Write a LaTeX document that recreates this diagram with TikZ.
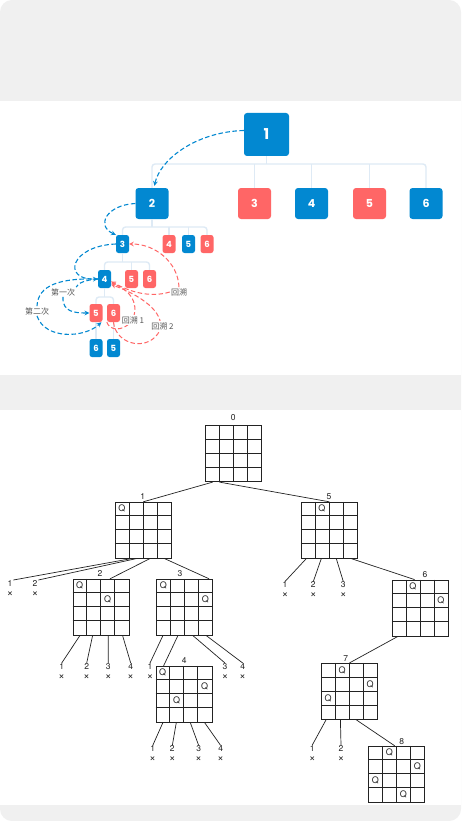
\documentclass[tikz,border=0pt]{standalone}
\usepackage{fontspec}
\usetikzlibrary{calc}
\newfontfamily\popfont{Poppins}
\newfontfamily\cjkfont{Noto Sans CJK SC}
\newfontfamily\helvfont{TeX Gyre Heros}
\definecolor{nodeblue}{RGB}{2,136,209}
\definecolor{nodered}{RGB}{255,102,102}
\definecolor{treeline}{RGB}{222,234,245}
\definecolor{panelgray}{RGB}{240,240,240}
\definecolor{labelgray}{RGB}{85,85,85}
\definecolor{inkgray}{RGB}{35,35,35}

\tikzset{
  bigbox/.style={fill=nodeblue, rounded corners=3pt, minimum width=45pt, minimum height=43pt, inner sep=0pt, text=white, font=\popfont\bfseries\fontsize{15}{15}\selectfont},
  midbox/.style={rounded corners=3pt, minimum width=33pt, minimum height=31pt, inner sep=0pt, text=white, font=\popfont\bfseries\fontsize{11}{11}\selectfont},
  smallbox/.style={rounded corners=2.5pt, minimum width=13pt, minimum height=18pt, inner sep=0pt, text=white, font=\popfont\bfseries\fontsize{8.5}{8.5}\selectfont},
  bx/.style={fill=nodeblue},
  rx/.style={fill=nodered},
  treeedge/.style={draw=treeline, line width=1.4pt, rounded corners=3pt},
  bluedash/.style={draw=nodeblue, line width=1.1pt, dash pattern=on 4.5pt off 2.5pt},
  reddash/.style={draw=nodered, line width=1pt, dash pattern=on 4.5pt off 2.5pt},
  cjklabel/.style={fill=white, inner sep=1pt, text=labelgray, font=\cjkfont\fontsize{8}{8}\selectfont},
  board/.style={draw=inkgray, line width=0.8pt, minimum size=56pt, inner sep=0pt},
  gridline/.style={draw=inkgray, line width=0.7pt},
  queen/.style={inner sep=0pt, text=inkgray, font=\helvfont\fontsize{9}{9}\selectfont},
  boardnum/.style={inner sep=0pt, text=inkgray, font=\helvfont\fontsize{8.5}{8.5}\selectfont},
  leaf/.style={inner sep=0pt, anchor=north, align=center, text=inkgray, font=\helvfont\fontsize{8.5}{10}\selectfont},
  branch/.style={draw=inkgray, line width=0.7pt},
}

% inner lines of a 4x4 board
\newcommand\drawgrid[1]{%
  \foreach \g in {14,28,42} {%
    \draw[gridline] ($(#1.north west)+(\g,0)$) -- ($(#1.south west)+(\g,0)$);
    \draw[gridline] ($(#1.north west)+(0,\g)$) -- ($(#1.north east)+(0,\g)$);
  }}
% queen: name, board, column, row
\newcommand\queen[4]{\node[queen] (#1) at ($(#2.north west)+({7+14*#3},{7+14*#4})$) {Q};}
% cross under a dead end
\newcommand\cross{{\fontsize{11}{10}\selectfont ×}}

\begin{document}
\begin{tikzpicture}[x=1pt,y=1pt,yscale=-1]
\useasboundingbox (0,0) rectangle (461,821);

%Panels
\fill[white] (0,0) rectangle (461,821);
\fill[panelgray, rounded corners=12pt] (0,0) rectangle (461,821);
\fill[white] (0,101) rectangle (461,375);
\fill[white] (0,410) rectangle (461,805);

%Top tree: level 1 and 2
\node[bigbox] (n1) at (266.5,134.5) {1};
\node[midbox,bx] (n2) at (152,203.5) {2};
\node[midbox,rx] (n3) at (254.5,203.5) {3};
\node[midbox,bx] (n4) at (311.5,203.5) {4};
\node[midbox,rx] (n5) at (369.5,203.5) {5};
\node[midbox,bx] (n6) at (426,203.5) {6};
%level 3
\node[smallbox,bx] (m3) at (122.5,244) {3};
\node[smallbox,rx] (m4) at (169,244) {4};
\node[smallbox,bx] (m5) at (188.5,244) {5};
\node[smallbox,rx] (m6) at (207,244) {6};
%level 4
\node[smallbox,bx] (k4) at (104.5,279) {4};
\node[smallbox,rx] (k5) at (131.5,279) {5};
\node[smallbox,rx] (k6) at (149.5,279) {6};
%level 5 and 6
\node[smallbox,rx] (j5) at (96,313) {5};
\node[smallbox,rx] (j6) at (113.5,313) {6};
\node[smallbox,bx] (i6) at (96,348) {6};
\node[smallbox,bx] (i5) at (113.5,348) {5};

%Tree edges
\coordinate (t1) at (266.5,164);
\draw[treeedge] (n2.north) |- (t1) -| (n6.north);
\draw[treeedge] (n1.south) -- (t1);
\draw[treeedge] (n3.north) -- (n3.north |- t1);
\draw[treeedge] (n4.north) -- (n4.north |- t1);
\draw[treeedge] (n5.north) -- (n5.north |- t1);
\coordinate (t2) at (152,227);
\draw[treeedge] (m3.north) |- (t2) -| (m6.north);
\draw[treeedge] (n2.south) -- (t2);
\draw[treeedge] (m4.north) -- (m4.north |- t2);
\draw[treeedge] (m5.north) -- (m5.north |- t2);
\coordinate (t3) at (122.5,262);
\draw[treeedge] (k4.north) |- (t3) -| (k6.north);
\draw[treeedge] (m3.south) -- (t3);
\draw[treeedge] (k5.north) -- (k5.north |- t3);
\coordinate (t4) at (104.5,297);
\draw[treeedge] (j5.north) |- (t4) -| (j6.north);
\draw[treeedge] (k4.south) -- (t4);
\draw[treeedge] (j5.south) -- (i6.north);
\draw[treeedge] (j6.south) -- (i5.north);

%Search path (blue)
\draw[bluedash,-stealth,shorten >=2pt] (n1.170) .. controls (195,132) and (160,160) .. ([xshift=2pt]n2.north);
\draw[bluedash,-stealth] (n2.west) .. controls (106,205) and (96,226) .. (m3.north west);
\draw[bluedash,-stealth] (m3.west) .. controls (70,246) and (62,280) .. (k4.west);
\node[cjklabel] (first) at (63,292) {第一次};
\node[cjklabel] (second) at (37,311) {第二次};
\draw[bluedash] (k4.west) .. controls (85,280) and (78,283) .. (first.north east);
\draw[bluedash,-stealth] (first.south) .. controls (62,312) and (75,313) .. (j5.west);
\draw[bluedash] (k4.west) .. controls (60,278) and (38,285) .. (second.north);
\draw[bluedash,-stealth] (second.south) .. controls (45,340) and (85,338) .. (j5.-60);

%Backtracking (red)
\node[cjklabel] (back) at (179,292) {回溯};
\draw[reddash,-stealth] (back.north) .. controls (178,262) and (155,244) .. (m3.east);
\draw[reddash,-stealth] (back.west) .. controls (150,298) and (130,292) .. (k4.-20);
\draw[reddash,-stealth] (j6.south west) .. controls (110,331) and (122,331) .. (130,323) .. controls (140,310) and (135,292) .. (k4.-30);
\draw[reddash,-stealth] (j6.south) .. controls (116,346) and (150,352) .. (160,330) .. controls (165,312) and (140,295) .. (k4.-40);
\node[cjklabel] (back1) at (133,320) {回溯 1};
\node[cjklabel] (back2) at (162.5,326) {回溯 2};

%Boards
\node[board] (b0) at (233.5,453.7) {};
\node[board] (b1) at (143.3,530.2) {};
\node[board] (b5) at (329.3,530.2) {};
\node[board] (b2) at (101,607.2) {};
\node[board] (b3) at (184.7,607.2) {};
\node[board] (b6) at (420.3,608) {};
\node[board] (b4) at (184,694.2) {};
\node[board] (b7) at (349.5,691.3) {};
\node[board] (b8) at (396.7,774.2) {};
\drawgrid{b0} \drawgrid{b1} \drawgrid{b2} \drawgrid{b3} \drawgrid{b4}
\drawgrid{b5} \drawgrid{b6} \drawgrid{b7} \drawgrid{b8}

% Text Node: board numbers
\node[boardnum] (l0) at (233.3,418) {0};
\node[boardnum] (l1) at (142.7,496.5) {1};
\node[boardnum] (l5) at (329,496.5) {5};
\node[boardnum] (l2) at (100,573.3) {2};
\node[boardnum] (l3) at (180,573.3) {3};
\node[boardnum] (l6) at (425,575) {6};
\node[boardnum] (l4) at (184.3,660) {4};
\node[boardnum] (l7) at (345.7,658.3) {7};
\node[boardnum] (l8) at (401.7,741.7) {8};

% Queens
\queen{q1a}{b1}{0}{0}
\queen{q5a}{b5}{1}{0}
\queen{q2a}{b2}{0}{0} \queen{q2b}{b2}{2}{1}
\queen{q3a}{b3}{0}{0} \queen{q3b}{b3}{3}{1}
\queen{q4a}{b4}{0}{0} \queen{q4b}{b4}{3}{1} \queen{q4c}{b4}{1}{2}
\queen{q6a}{b6}{1}{0} \queen{q6b}{b6}{3}{1}
\queen{q7a}{b7}{1}{0} \queen{q7b}{b7}{3}{1} \queen{q7c}{b7}{0}{2}
\queen{q8a}{b8}{1}{0} \queen{q8b}{b8}{3}{1} \queen{q8c}{b8}{0}{2} \queen{q8d}{b8}{2}{3}

% Text Node: dead ends
\node[leaf] (a11) at (10,580) {1\\\cross};
\node[leaf] (a12) at (35,580) {2\\\cross};
\node[leaf] (a21) at (61.7,663) {1\\\cross};
\node[leaf] (a22) at (86.7,663) {2\\\cross};
\node[leaf] (a23) at (108.3,663) {3\\\cross};
\node[leaf] (a24) at (130.7,663) {4\\\cross};
\node[leaf] (a31) at (150,663) {1\\\cross};
\node[leaf] (a33) at (225,663) {3\\\cross};
\node[leaf] (a34) at (242.7,663) {4\\\cross};
\node[leaf] (a41) at (152.7,745.5) {1\\\cross};
\node[leaf] (a42) at (172.3,745.5) {2\\\cross};
\node[leaf] (a43) at (198.7,745.5) {3\\\cross};
\node[leaf] (a44) at (220.7,745.5) {4\\\cross};
\node[leaf] (a51) at (285,581.5) {1\\\cross};
\node[leaf] (a52) at (313.3,581.5) {2\\\cross};
\node[leaf] (a53) at (343.3,581.5) {3\\\cross};
\node[leaf] (a71) at (312.3,745) {1\\\cross};
\node[leaf] (a72) at (341,745) {2\\\cross};

%Branches
\draw[branch] ([xshift=7.6pt]b0.south west) -- (b1.north);
\draw[branch] ([xshift=14.3pt]b0.south west) -- (b5.north);
\draw[branch] ([xshift=16.4pt]b1.south west) -- (a11.north east);
\draw[branch] ([xshift=21.4pt]b1.south west) -- (a12.north east);
\draw[branch] ([xshift=35pt]b1.south west) -- ([xshift=9pt]b2.north);
\draw[branch] ([xshift=49.7pt]b1.south west) -- ([xshift=-4pt]b3.north east);
\draw[branch] ([xshift=7.3pt]b2.south west) -- (a21.north);
\draw[branch] ([xshift=20pt]b2.south west) -- (a22.north);
\draw[branch] ([xshift=35.6pt]b2.south west) -- (a23.north);
\draw[branch] ([xshift=50pt]b2.south west) -- (a24.north);
\draw[branch] ([xshift=6.6pt]b3.south west) -- (a31.north);
\draw[branch] ([xshift=21.6pt]b3.south west) -- ([xshift=8pt]b4.north west);
\draw[branch] ([xshift=36.6pt]b3.south west) -- (a33.north);
\draw[branch] ([xshift=50pt]b3.south west) -- (a34.north);
\draw[branch] ([xshift=7.3pt]b4.south west) -- (a41.north);
\draw[branch] ([xshift=20.7pt]b4.south west) -- (a42.north);
\draw[branch] ([xshift=34.7pt]b4.south west) -- (a43.north);
\draw[branch] ([xshift=49pt]b4.south west) -- (a44.north);
\draw[branch] ([xshift=5.4pt]b5.south west) -- (a51.north);
\draw[branch] ([xshift=20.4pt]b5.south west) -- (a52.north);
\draw[branch] ([xshift=35.4pt]b5.south west) -- (a53.north);
\draw[branch] ([xshift=50.4pt]b5.south west) -- ([xshift=22.7pt]b6.north west);
\draw[branch] ([xshift=6pt]b6.south west) -- (b7.north);
\draw[branch] ([xshift=5pt]b7.south west) -- (a71.north);
\draw[branch] ([xshift=19.3pt]b7.south west) -- (a72.north);
\draw[branch] ([xshift=35pt]b7.south west) -- ([xshift=-2pt]b8.north);

\end{tikzpicture}
\end{document}
